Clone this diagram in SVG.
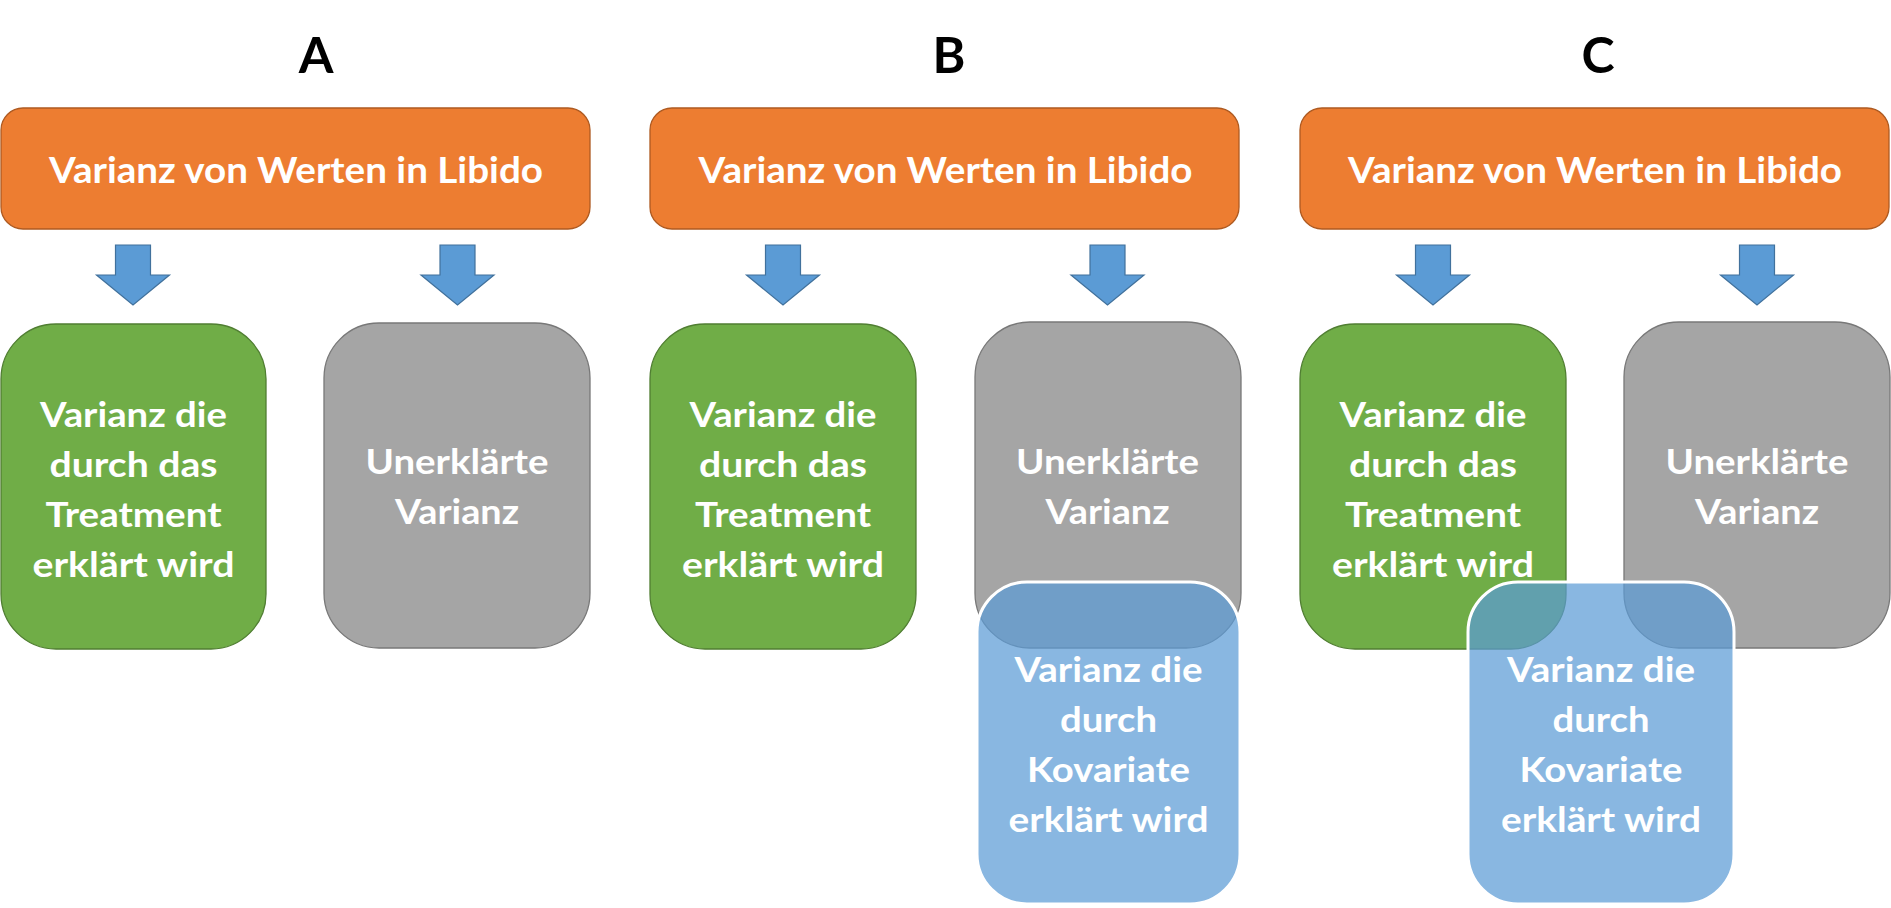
<svg xmlns="http://www.w3.org/2000/svg" width="1891" height="908" viewBox="0 0 1891 908">
<style>
text{font-family:Lato,"Open Sans","Liberation Sans",sans-serif;font-weight:700;text-anchor:middle;fill:#fff}
.title{fill:#000;font-size:50px}
.hd{font-size:37px}
.lb{font-size:35px}
.orange{fill:#ED7D31;stroke:#AE5A21;stroke-width:1.3}
.green{fill:#70AD47;stroke:#507E32;stroke-width:1.3}
.gray{fill:#A5A5A5;stroke:#787878;stroke-width:1.3}
.blue{fill:#5B9BD5;fill-opacity:0.72;stroke:#fff;stroke-width:3}
.arrow{fill:#5B9BD5;stroke:#41719C;stroke-width:1.2}
</style>
<defs>
<path id="arr" d="M-17.5,245 H17.5 V275 H36.5 L0,305 L-36.5,275 H-17.5 Z"/>
</defs>

<g id="titles">
<text class="title" x="316" y="73">A</text>
<text class="title" x="949" y="73">B</text>
<text class="title" x="1598" y="73">C</text>
</g>

<g id="connectors">
<use href="#arr" class="arrow" x="133"/>
<use href="#arr" class="arrow" x="457.5"/>
<use href="#arr" class="arrow" x="783"/>
<use href="#arr" class="arrow" x="1107.5"/>
<use href="#arr" class="arrow" x="1433"/>
<use href="#arr" class="arrow" x="1757"/>
</g>

<!-- Column A -->
<g id="total-A">
<rect class="orange" x="1" y="108" width="589" height="121" rx="22"/>
<text class="hd" x="296" y="183" textLength="494" lengthAdjust="spacingAndGlyphs">Varianz von Werten in Libido</text>
</g>
<g id="treatment-A">
<rect class="green" x="1" y="324" width="265" height="325" rx="55"/>
<text class="lb" x="133.5" y="427" textLength="187" lengthAdjust="spacingAndGlyphs">Varianz die</text>
<text class="lb" x="133.5" y="477" textLength="168" lengthAdjust="spacingAndGlyphs">durch das</text>
<text class="lb" x="133.5" y="527" textLength="176" lengthAdjust="spacingAndGlyphs">Treatment</text>
<text class="lb" x="133.5" y="577" textLength="202" lengthAdjust="spacingAndGlyphs">erklärt wird</text>
</g>
<g id="unexplained-A">
<rect class="gray" x="324" y="323" width="266" height="325" rx="55"/>
<text class="lb" x="457" y="474" textLength="183" lengthAdjust="spacingAndGlyphs">Unerklärte</text>
<text class="lb" x="457" y="524" textLength="124" lengthAdjust="spacingAndGlyphs">Varianz</text>
</g>

<!-- Column B -->
<g id="total-B">
<rect class="orange" x="650" y="108" width="589" height="121" rx="22"/>
<text class="hd" x="945.5" y="183" textLength="494" lengthAdjust="spacingAndGlyphs">Varianz von Werten in Libido</text>
</g>
<g id="treatment-B">
<rect class="green" x="650" y="324" width="266" height="325" rx="55"/>
<text class="lb" x="783" y="427" textLength="187" lengthAdjust="spacingAndGlyphs">Varianz die</text>
<text class="lb" x="783" y="477" textLength="168" lengthAdjust="spacingAndGlyphs">durch das</text>
<text class="lb" x="783" y="527" textLength="176" lengthAdjust="spacingAndGlyphs">Treatment</text>
<text class="lb" x="783" y="577" textLength="202" lengthAdjust="spacingAndGlyphs">erklärt wird</text>
</g>
<g id="unexplained-B">
<rect class="gray" x="975" y="322" width="266" height="326" rx="55"/>
<text class="lb" x="1107.5" y="474" textLength="183" lengthAdjust="spacingAndGlyphs">Unerklärte</text>
<text class="lb" x="1107.5" y="524" textLength="124" lengthAdjust="spacingAndGlyphs">Varianz</text>
</g>
<g id="covariate-B">
<rect class="blue" x="977" y="582" width="263" height="322" rx="50"/>
<text class="lb" x="1108.5" y="682" textLength="188" lengthAdjust="spacingAndGlyphs">Varianz die</text>
<text class="lb" x="1108.5" y="732" textLength="97" lengthAdjust="spacingAndGlyphs">durch</text>
<text class="lb" x="1108.5" y="782" textLength="163" lengthAdjust="spacingAndGlyphs">Kovariate</text>
<text class="lb" x="1108.5" y="832" textLength="200" lengthAdjust="spacingAndGlyphs">erklärt wird</text>
</g>

<!-- Column C -->
<g id="total-C">
<rect class="orange" x="1300" y="108" width="589" height="121" rx="22"/>
<text class="hd" x="1595" y="183" textLength="494" lengthAdjust="spacingAndGlyphs">Varianz von Werten in Libido</text>
</g>
<g id="treatment-C">
<rect class="green" x="1300" y="324" width="266" height="325" rx="55"/>
<text class="lb" x="1433" y="427" textLength="187" lengthAdjust="spacingAndGlyphs">Varianz die</text>
<text class="lb" x="1433" y="477" textLength="168" lengthAdjust="spacingAndGlyphs">durch das</text>
<text class="lb" x="1433" y="527" textLength="176" lengthAdjust="spacingAndGlyphs">Treatment</text>
<text class="lb" x="1433" y="577" textLength="202" lengthAdjust="spacingAndGlyphs">erklärt wird</text>
</g>
<g id="unexplained-C">
<rect class="gray" x="1624" y="322" width="266" height="326" rx="55"/>
<text class="lb" x="1757" y="474" textLength="183" lengthAdjust="spacingAndGlyphs">Unerklärte</text>
<text class="lb" x="1757" y="524" textLength="124" lengthAdjust="spacingAndGlyphs">Varianz</text>
</g>
<g id="covariate-C">
<rect class="blue" x="1468" y="582" width="266" height="322" rx="50"/>
<text class="lb" x="1601" y="682" textLength="188" lengthAdjust="spacingAndGlyphs">Varianz die</text>
<text class="lb" x="1601" y="732" textLength="97" lengthAdjust="spacingAndGlyphs">durch</text>
<text class="lb" x="1601" y="782" textLength="163" lengthAdjust="spacingAndGlyphs">Kovariate</text>
<text class="lb" x="1601" y="832" textLength="200" lengthAdjust="spacingAndGlyphs">erklärt wird</text>
</g>
</svg>
